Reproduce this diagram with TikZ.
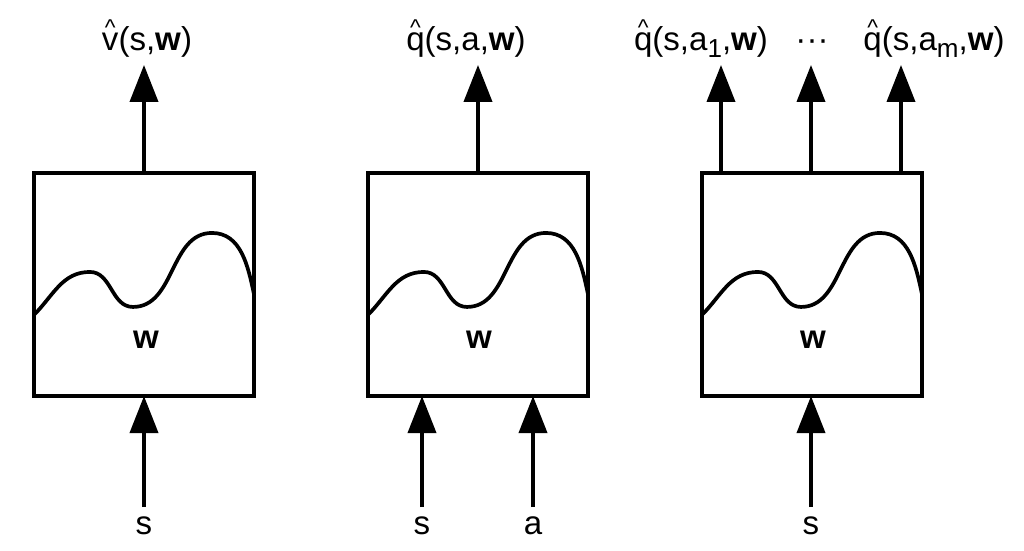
\documentclass[tikz,border=0pt]{standalone}
\usepackage{fontspec}
\setmainfont{Liberation Sans}
\usetikzlibrary{arrows.meta}
\newcommand{\myhat}[1]{\ooalign{#1\cr\hidewidth\raisebox{4.1pt}{\fontsize{6.5pt}{6.5pt}\selectfont\textasciicircum}\hidewidth\cr}}
\newcommand{\mysub}[1]{\raisebox{-2.2pt}{\fontsize{7.4pt}{7.4pt}\selectfont #1}}
\begin{document}
\begin{tikzpicture}[x=0.01cm,y=0.01cm,
  box/.style={draw,line width=0.95pt,minimum width=2.2cm,minimum height=2.23cm,inner sep=0pt,outer sep=0pt},
  arr/.style={line width=0.95pt,-{Triangle[length=10.5pt,width=8pt]}},
  curve/.style={line width=1.05pt},
  lbl/.style={font=\fontsize{9.4pt}{11pt}\selectfont,anchor=base,inner sep=0pt},
  wlbl/.style={font=\fontsize{9.4pt}{11pt}\selectfont\bfseries,inner sep=0pt},
  wave/.style={curve,shift={(#1.north west)}}
  ]
\useasboundingbox (0,0) rectangle (1024,550);
% boxes
\node[box] (b1) at (144,265.5) {};
\node[box] (b2) at (478,265.5) {};
\node[box] (b3) at (812,265.5) {};
% waves
\foreach \b in {b1,b2,b3}{
  \draw[wave=\b] (0,-142) to[out=45,in=180] (56,-99) to[out=0,in=180] (99,-134)
     to[out=0,in=180] (178,-60) to[out=0,in=102] (220,-121);
}
% weight labels
\node[wlbl] (w1) at (146,210) {w};
\node[wlbl] (w2) at (479,210) {w};
\node[wlbl] (w3) at (813,210) {w};
% output labels
\node[lbl] (o1l) at (147,500) {\myhat{v}(s,\textbf{w})};
\node[lbl] (o2l) at (466,500) {\myhat{q}(s,a,\textbf{w})};
\node[lbl] (o3l) at (701,500) {\myhat{q}(s,a\mysub{1},\textbf{w})};
\node[lbl] (o3d) at (812,500) {\textperiodcentered\textperiodcentered\textperiodcentered};
\node[lbl] (o3m) at (934,500) {\myhat{q}(s,a\mysub{m},\textbf{w})};
% input labels
\node[lbl] (s1) at (144,16) {s};
\node[lbl] (s2) at (422,16) {s};
\node[lbl] (a2) at (533,16) {a};
\node[lbl] (s3) at (811,16) {s};
% arrow tips / tails
\coordinate (t1) at (144,485);
\coordinate (t2) at (478,485);
\coordinate (t31) at (721,485);
\coordinate (t32) at (811,485);
\coordinate (t33) at (901,485);
\coordinate (i1) at (144,43);
\coordinate (i21) at (422,43);
\coordinate (i22) at (533,43);
\coordinate (i3) at (811,43);
% output arrows
\draw[arr] (b1.north) -- (t1);
\draw[arr] (b2.north) -- (t2);
\draw[arr] (t31 |- b3.north) -- (t31);
\draw[arr] (t32 |- b3.north) -- (t32);
\draw[arr] (t33 |- b3.north) -- (t33);
% input arrows
\draw[arr] (i1) -- (i1 |- b1.south);
\draw[arr] (i21) -- (i21 |- b2.south);
\draw[arr] (i22) -- (i22 |- b2.south);
\draw[arr] (i3) -- (i3 |- b3.south);
\end{tikzpicture}
\end{document}
